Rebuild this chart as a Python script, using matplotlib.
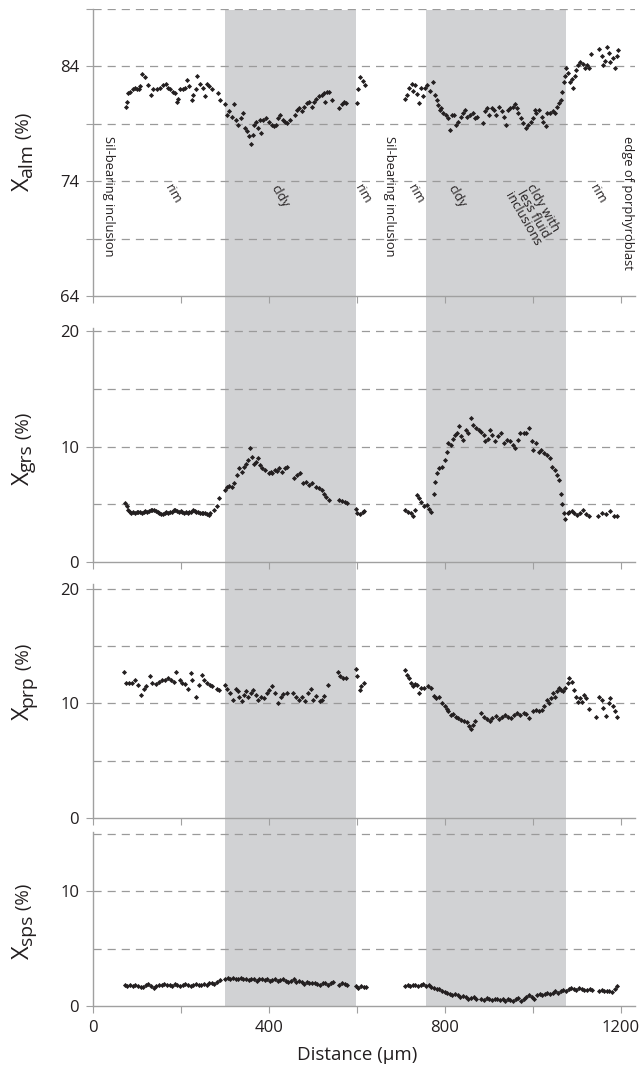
import matplotlib
matplotlib.use('Agg')
import matplotlib.pyplot as plt
from matplotlib.transforms import IdentityTransform

plt.rcParams['font.family'] = ['Open Sans', 'DejaVu Sans']

# garnet line profile, two traverses (distance in um, end-member in %)
alm_x = [75, 78, 80, 84, 90, 95, 99, 105, 107, 112, 118, 126, 131, 137, 145, 152, 160, 166, 171, 175,
         181, 186, 190, 194, 198, 204, 209, 214, 219, 224, 228, 234, 237, 243, 249, 255, 258, 264, 270, 285, 289,
         300, 304, 310, 315, 321, 325, 330, 336, 340, 346, 351, 355, 359, 363, 366, 371, 376, 380, 383, 387,
         393, 399, 406, 411, 416, 421, 425, 431, 436, 442, 448, 459, 463, 469, 474, 480, 486, 492, 497, 502,
         508, 514, 520, 524, 527, 531, 537, 543, 560, 565, 570, 576,
         599, 603, 607, 613, 618,
         709, 714, 719, 724, 728, 732, 736, 741, 745, 749, 755, 760, 766, 772, 777, 781, 785, 789, 792, 796,
         802, 808, 811, 815, 820, 825, 830, 836, 842, 845, 851, 857, 863, 868, 873, 887, 891, 896, 901, 906,
         911, 917, 923, 929, 934, 939, 944, 949, 954, 959, 963, 967, 972, 978, 984, 989, 995, 1001, 1004, 1008,
         1014, 1020, 1023, 1030, 1033, 1039, 1045, 1050, 1055, 1060, 1063, 1067, 1070, 1073, 1076, 1080, 1084,
         1088, 1092, 1095, 1099, 1103, 1107, 1113, 1118, 1122, 1128, 1133, 1151, 1156, 1160, 1164, 1169, 1173,
         1176, 1183, 1186, 1190, 1194]
alm_y = [80.5, 80.9, 81.7, 81.8, 82.0, 82.1, 82.0, 82.0, 82.3, 83.3, 83.1, 82.4, 81.5, 82.0, 82.0, 82.1, 82.4,
         82.5, 82.1, 82.0, 81.8, 81.7, 80.9, 81.2, 82.0, 82.0, 82.1, 82.8, 82.3, 81.1, 81.5, 82.0, 83.2, 82.5,
         82.1, 81.4, 82.5, 82.3, 82.0, 81.7, 81.1,
         80.7, 79.8, 80.1, 79.6, 80.7, 79.3, 78.9, 79.5, 79.9, 78.6, 78.4, 77.9, 77.2, 78.0, 78.9, 79.2, 78.6,
         79.3, 78.2, 79.3, 79.5, 79.2, 78.9, 78.8, 78.9, 79.5, 79.8, 79.3, 79.2, 79.1, 79.3, 79.8, 80.2, 80.4,
         80.1, 80.5, 80.8, 80.9, 80.5, 80.9, 81.2, 81.4, 81.5, 81.7, 80.9, 81.8, 81.8, 81.1, 80.4, 80.7, 80.9, 80.8,
         80.8, 82.0, 83.1, 82.7, 82.4,
         81.2, 81.5, 82.1, 82.5, 81.9, 82.4, 81.6, 80.8, 82.1, 81.4, 82.1, 82.4, 81.9, 82.6, 81.5, 81.1, 80.6,
         80.2, 80.4, 79.9, 79.8, 79.5, 78.5, 79.8, 79.8, 78.9, 79.2, 79.6, 79.9, 80.2, 79.6, 79.8, 79.9, 79.5,
         79.6, 79.1, 80.1, 80.4, 79.8, 80.4, 80.2, 79.8, 80.5, 80.1, 79.6, 78.9, 80.2, 80.4, 80.5, 80.7, 80.4,
         79.9, 79.5, 79.1, 78.6, 78.9, 79.2, 79.5, 80.2, 79.9, 80.2, 79.6, 79.2, 78.8, 79.9, 79.9, 80.1, 79.9,
         80.5, 80.8, 81.1, 81.8, 82.6, 83.2, 83.9, 83.4, 82.6, 82.9, 82.1, 83.2, 83.7, 84.1, 84.4, 84.2, 83.9,
         84.1, 83.9, 85.1, 85.5, 84.9, 84.1, 84.5, 85.7, 85.2, 84.4, 84.7, 83.9, 84.9, 85.4]

grs_x = [73, 77, 80, 83, 87, 91, 95, 99, 103, 107, 111, 115, 119, 123, 127, 131, 135, 139, 143, 147,
         151, 155, 159, 163, 167, 171, 175, 179, 183, 187, 191, 195, 199, 203, 207, 211, 215, 219, 223, 227,
         231, 235, 239, 243, 247, 251, 255, 259, 263, 267, 275, 282, 287,
         299, 305, 310, 315, 321, 327, 333, 338, 343, 347, 352, 357, 361, 366, 371, 375, 380, 385, 392, 399,
         404, 408, 414, 418, 422, 429, 436, 441, 457, 464, 470, 478, 485, 492, 498, 506, 513, 520, 524, 529,
         536, 560, 566, 573, 578,
         597, 601, 606, 613, 617,
         709, 715, 722, 727, 732, 737, 740, 746, 753, 759, 764, 768, 774, 778, 783, 787, 794, 799, 804, 808,
         813, 818, 822, 827, 832, 836, 841, 848, 853, 860, 864, 871, 877, 883, 888, 892, 897, 903, 906, 914,
         920, 927, 934, 941, 948, 954, 960, 967, 971, 979, 985, 992, 998, 1001, 1007, 1013, 1018, 1025, 1032,
         1038, 1044, 1050, 1055, 1060, 1064, 1067, 1071, 1074, 1079, 1083, 1088, 1093, 1100, 1106, 1113, 1120,
         1127, 1148, 1158, 1167, 1176, 1184, 1190]
grs_y = [5.1, 4.8, 4.5, 4.35, 4.25, 4.3, 4.25, 4.3, 4.35, 4.3, 4.25, 4.3, 4.4, 4.35, 4.4, 4.5, 4.45, 4.5, 4.4,
         4.3, 4.25, 4.15, 4.1, 4.2, 4.3, 4.25, 4.3, 4.35, 4.45, 4.5, 4.4, 4.35, 4.4, 4.3, 4.25, 4.3, 4.2, 4.3,
         4.35, 4.5, 4.4, 4.3, 4.3, 4.25, 4.2, 4.25, 4.2, 4.1, 4.05, 4.25, 4.5, 4.8, 5.5,
         6.2, 6.5, 6.6, 6.45, 6.8, 7.5, 8.1, 7.8, 8.25, 8.5, 8.8, 9.85, 9.1, 8.5, 8.7, 9.0, 8.4, 8.1, 8.0, 7.7,
         7.8, 7.7, 8.0, 7.9, 8.1, 7.8, 8.1, 8.25, 7.25, 7.5, 7.7, 6.8, 6.9, 6.65, 6.85, 6.5, 6.4, 6.2, 5.9, 5.6,
         5.35, 5.4, 5.3, 5.2, 5.1,
         4.6, 4.25, 4.1, 4.3, 4.4,
         4.5, 4.3, 4.2, 3.95, 4.5, 5.8, 5.5, 5.2, 4.8, 4.9, 4.6, 4.3, 5.9, 6.95, 7.7, 8.1, 8.25, 8.8, 9.55, 10.3,
         10.15, 10.7, 11.0, 11.15, 11.75, 10.9, 10.6, 11.45, 11.15, 12.45, 11.9, 11.6, 11.4, 11.3, 11.0, 10.45,
         10.7, 11.45, 11.0, 10.45, 10.9, 11.15, 10.3, 10.6, 10.45, 10.15, 9.85, 10.6, 11.15, 11.2, 11.15, 11.6,
         10.45, 9.7, 10.3, 9.55, 9.7, 9.4, 9.3, 9.0, 8.25, 8.0, 7.5, 7.1, 5.9, 5.05, 4.2, 3.75, 4.2, 4.3, 4.4,
         4.2, 4.05, 4.25, 4.5, 4.1, 4.0, 4.0, 4.2, 4.1, 4.4, 4.0, 3.95]

prp_x = [71, 75, 82, 88, 96, 102, 108, 115, 121, 129, 135, 143, 150, 156, 163, 170, 178, 184, 189, 197,
         203, 210, 215, 222, 226, 234, 240, 247, 252, 259, 265, 271, 282, 287,
         301, 305, 312, 318, 324, 329, 333, 338, 343, 347, 352, 359, 364, 371, 375, 383, 389, 396, 401, 408,
         414, 420, 427, 433, 441, 455, 461, 468, 476, 482, 489, 495, 501, 508, 515, 520, 526, 534, 557, 561,
         569, 576,
         597, 601, 606, 610, 616,
         709, 713, 718, 723, 727, 732, 737, 740, 746, 753, 762, 768, 774, 780, 787, 793, 799, 804, 808, 813,
         818, 824, 830, 836, 843, 849, 855, 860, 864, 869, 883, 888, 895, 902, 908, 915, 923, 930, 936, 943,
         950, 957, 964, 971, 979, 985, 992, 1000, 1007, 1013, 1020, 1025, 1032, 1037, 1041, 1046, 1051, 1055,
         1060, 1064, 1069, 1074, 1079, 1083, 1088, 1093, 1097, 1102, 1106, 1111, 1116, 1120, 1128, 1144, 1150,
         1156, 1160, 1165, 1172, 1176, 1181, 1186, 1190]
prp_y = [12.7, 11.8, 11.8, 11.8, 12.0, 11.6, 10.75, 11.3, 11.5, 12.35, 11.8, 11.7, 11.9, 12.05, 12.0, 12.2,
         12.05, 11.9, 12.7, 12.0, 11.8, 11.7, 11.3, 12.65, 12.05, 10.6, 11.6, 12.5, 12.05, 11.8, 11.6, 11.5,
         11.3, 11.2,
         11.6, 11.3, 10.9, 10.3, 11.25, 11.05, 10.6, 10.2, 10.75, 11.05, 10.6, 10.9, 11.2, 10.75, 10.3, 10.6,
         10.45, 10.9, 11.2, 11.5, 10.9, 10.0, 10.6, 10.85, 10.9, 10.9, 10.6, 10.3, 10.6, 10.2, 10.9, 11.3, 10.3,
         10.65, 10.2, 10.3, 10.65, 11.6, 12.7, 12.35, 12.2, 12.2,
         13.0, 12.35, 11.2, 11.5, 11.8,
         12.95, 12.5, 12.2, 11.8, 11.5, 11.7, 11.6, 10.9, 11.35, 11.35, 11.5, 11.35, 10.65, 10.45, 10.6, 10.0,
         9.75, 9.5, 9.3, 9.0, 9.1, 8.85, 8.7, 8.6, 8.5, 8.35, 8.0, 7.75, 8.15, 8.45, 9.15, 8.85, 8.65, 8.45,
         8.7, 8.9, 8.65, 8.85, 9.0, 8.85, 8.7, 9.0, 9.15, 9.0, 9.15, 9.1, 8.7, 9.3, 9.4, 9.3, 9.45, 9.75, 10.3,
         10.0, 10.45, 10.9, 10.6, 11.05, 11.35, 11.2, 11.05, 11.35, 11.8, 12.2, 11.9, 11.2, 10.6, 10.15, 10.45,
         10.15, 10.75, 10.45, 9.5, 8.85, 10.6, 10.3, 9.6, 8.9, 10.0, 10.45, 9.75, 9.3, 8.85]

sps_x = [72, 78, 84, 90, 96, 102, 108, 114, 120, 126, 132, 138, 144, 150, 156, 162, 168, 174, 180, 186,
         192, 198, 204, 210, 216, 222, 228, 234, 240, 246, 252, 258, 264, 270, 276, 282, 288,
         300, 306, 312, 318, 324, 330, 336, 342, 348, 354, 360, 366, 372, 378, 384, 390, 396, 402, 408, 414,
         420, 426, 432, 438, 444, 450, 456, 462, 468, 474, 480, 486, 492, 498, 504, 510, 516, 522, 528, 534,
         540, 546, 560, 566, 572, 578,
         597, 603, 609, 615, 620,
         709, 715, 721, 727, 733, 739, 745, 751, 757, 763, 769, 775, 781, 787, 793, 799, 805, 811, 817, 823,
         829, 835, 841, 847, 853, 859, 865, 871, 883, 889, 895, 901, 907, 913, 919, 925, 931, 937, 943, 949,
         955, 961, 967, 973, 979, 985, 991, 997, 1003, 1009, 1015, 1021, 1027, 1033, 1039, 1045, 1051, 1057,
         1063, 1069, 1075, 1081, 1087, 1093, 1099, 1105, 1111, 1117, 1123, 1129, 1135,
         1150, 1156, 1162, 1168, 1174, 1180, 1186, 1192]
sps_y = [1.8, 1.75, 1.8, 1.7, 1.8, 1.75, 1.6, 1.65, 1.8, 1.9, 1.75, 1.55, 1.7, 1.8, 1.85, 1.9, 1.8, 1.85, 1.75,
         1.9, 1.8, 1.7, 1.85, 1.9, 1.8, 1.75, 1.85, 1.9, 1.85, 1.8, 1.9, 1.85, 1.95, 2.0, 1.9, 2.1, 2.25,
         2.35, 2.4, 2.3, 2.45, 2.35, 2.3, 2.4, 2.3, 2.35, 2.25, 2.35, 2.3, 2.2, 2.3, 2.35, 2.25, 2.3, 2.2, 2.25,
         2.3, 2.15, 2.25, 2.3, 2.2, 2.05, 2.15, 2.3, 2.1, 2.2, 2.05, 1.9, 2.05, 2.0, 1.95, 2.0, 1.9, 1.85, 1.95,
         2.0, 1.8, 2.0, 2.1, 1.8, 2.0, 1.9, 1.85,
         1.75, 1.55, 1.7, 1.6, 1.65,
         1.75, 1.8, 1.7, 1.85, 1.8, 1.75, 1.85, 1.9, 1.7, 1.8, 1.65, 1.55, 1.45, 1.5, 1.3, 1.2, 1.1, 1.05, 0.95,
         1.0, 0.9, 0.8, 0.85, 0.75, 0.6, 0.7, 0.75, 0.55, 0.6, 0.5, 0.65, 0.6, 0.5, 0.55, 0.6, 0.5, 0.55, 0.45,
         0.6, 0.5, 0.45, 0.55, 0.7, 0.45, 0.55, 0.8, 0.95, 0.75, 0.6, 0.9, 1.05, 0.95, 1.0, 1.1, 1.05, 1.15,
         1.25, 1.1, 1.3, 1.35, 1.25, 1.45, 1.55, 1.5, 1.4, 1.55, 1.45, 1.35, 1.4, 1.45, 1.4,
         1.3, 1.35, 1.3, 1.25, 1.3, 1.2, 1.45, 1.7]

# shaded core zones (um)
core_spans = [(300, 598), (757, 1076)]

# zone labels on the top panel: (x, y, text, rotation)
zone_labels = [(35, 77.9, 'Sil-bearing inclusion', -90),
               (182, 73.9, 'rim', -60),
               (425, 73.9, 'cldy', -60),
               (613, 73.9, 'rim', -60),
               (675, 77.9, 'Sil-bearing inclusion', -90),
               (735, 73.9, 'rim', -60),
               (827, 73.9, 'cldy', -60),
               (1000, 74.2, 'cldy with\nless fluid\ninclusions', -60),
               (1148, 73.9, 'rim', -60),
               (1216, 77.9, 'edge of porphyroblast', -90)]

W, H = 644, 1075
INK = '#231f20'
AXC = '#a0a0a0'
X0, X1 = 93, 635
XMAX = 1232

fig = plt.figure(figsize=(W / 100, H / 100), dpi=100)


def box(top, bottom):
    return [X0 / W, 1 - bottom / H, (X1 - X0) / W, (bottom - top) / H]


bg = fig.add_axes(box(10, 1005.7))
bg.set_xlim(0, XMAX)
bg.axis('off')
for a, b in core_spans:
    bg.axvspan(a, b, color='#d1d2d4', lw=0)

panels = [
    (alm_x, alm_y, 9, 296, (64, 89), [64, 74, 84], [69, 79, 89], [69, 74, 79, 84, 89], 'alm', 152),
    (grs_x, grs_y, 328, 561.7, (0, 20.3), [0, 10, 20], [], [5, 10, 15, 20], 'grs', 449),
    (prp_x, prp_y, 584, 818.3, (0, 20.4), [0, 10, 20], [], [5, 10, 15, 20], 'prp', 682),
    (sps_x, sps_y, 832, 1005.7, (0, 15.2), [0, 10], [], [5, 10, 15], 'sps', 921),
]

axes = []
for i, (xs, ys, top, bot, ylim, yt, ymin, grid, sub, yc) in enumerate(panels):
    ax = fig.add_axes(box(top, bot))
    ax.patch.set_alpha(0)
    ax.set_xlim(0, XMAX)
    ax.set_ylim(*ylim)
    for s in ['top', 'right']:
        ax.spines[s].set_visible(False)
    for s in ['left', 'bottom']:
        ax.spines[s].set_color(AXC)
        ax.spines[s].set_linewidth(1.0)
    for g in grid:
        ax.axhline(g, color='#9a9a9a', lw=0.9, ls=(0, (6.5, 4.8)), zorder=1)
    ax.plot(xs, ys, ls='none', marker='D', ms=2.6, mew=0, color=INK, zorder=3)
    ax.set_yticks(yt)
    ax.set_yticks(ymin, minor=True)
    ax.set_xticks(range(0, 1201, 200))
    if i == 3:
        ax.set_xticklabels(['0', '', '400', '', '800', '', '1200'])
    else:
        ax.set_xticklabels([])
    ax.tick_params(which='both', direction='out', length=5, width=0.8, color=AXC,
                   labelcolor=INK, labelsize=12, pad=5)
    axes.append(ax)

ax1 = axes[0]
for x, y, s, rot in zone_labels:
    ax1.text(x, y, s, rotation=rot, ha='center', va='top', fontsize=9.3, color=INK,
             linespacing=0.85, zorder=4)

fig.text(357 / W, 1 - 1055 / H, 'Distance (\u00b5m)', ha='center', va='center',
         fontsize=13.5, color=INK)


# y labels: big X, subscript, (%), stacked along the rotated baseline
def ylab(sub, yc, xb=29):
    parts = [('X', 17, 0), (sub, 14, 3), (' (%)', 13.5, 0)]
    ts = []
    for s, size, dx in parts:
        t = fig.text(0, 0, s, fontsize=size, rotation=90, rotation_mode='anchor',
                     ha='left', va='baseline', transform=IdentityTransform(), color=INK)
        ts.append((t, dx))
    fig.canvas.draw()
    r = fig.canvas.get_renderer()
    lens = [t.get_window_extent(r).height for t, dx in ts]
    y = (H - yc) - sum(lens) / 2
    for (t, dx), L in zip(ts, lens):
        t.set_position((xb + dx, y))
        y += L


for p in panels:
    ylab(p[8], p[9])

fig.savefig('out.png', dpi=100)
